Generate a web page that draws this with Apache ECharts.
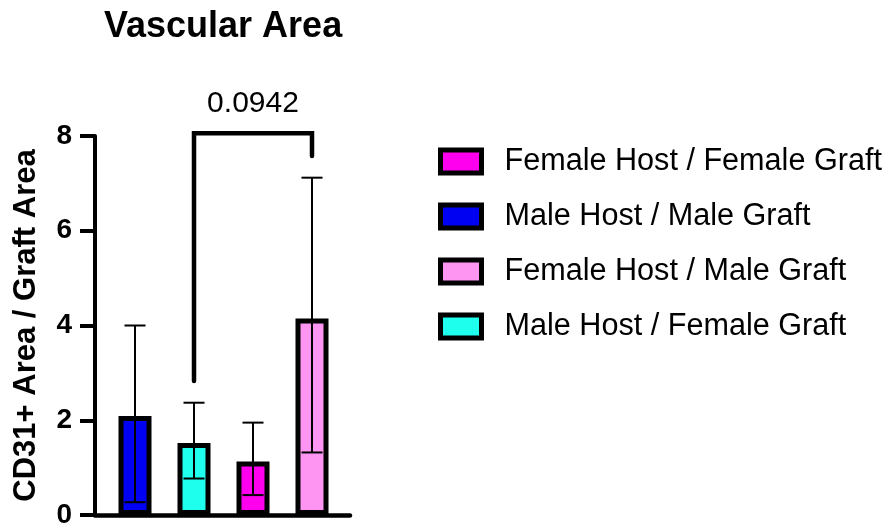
<!DOCTYPE html>
<html>
<head>
<meta charset="utf-8">
<script src="https://cdn.jsdelivr.net/npm/echarts@6/dist/echarts.min.js"></script>
<style>
  html, body { margin: 0; padding: 0; background: #fff; }
  #chart { width: 886px; height: 529px; }
</style>
</head>
<body>
<div id="chart"></div>
<script>
// group names, in bar order
var groups = ["Male Host / Male Graft", "Male Host / Female Graft", "Female Host / Female Graft", "Female Host / Male Graft"];
var legendOrder = ["Female Host / Female Graft", "Male Host / Male Graft", "Female Host / Male Graft", "Male Host / Female Graft"];
var colors = ["#0000F2", "#1EFFEE", "#FF00EE", "#FF95F2"];
var xPos = [1, 2, 3, 4];
var means = [2.09, 1.52, 1.13, 4.15];
var upper = [4.0, 2.37, 1.95, 7.12];
var lower = [0.27, 0.77, 0.42, 1.32];
var yTicks = [0, 2, 4, 6, 8];
// significance bracket: from group, to group, top, left leg end, right leg end
var bracket = [[2, 4, 8.06, 2.83, 7.58]];
var bracketLabels = ["0.0942"];

var font = "'Liberation Sans', Arial, sans-serif";

var chart = echarts.init(document.getElementById("chart"));

var series = groups.map(function (name, i) {
  return {
    name: name,
    type: "bar",
    barWidth: 33,
    barGap: "-100%",
    itemStyle: { color: colors[i], borderColor: "#000", borderWidth: 5 },
    data: [[xPos[i], means[i]]],
    z: 2
  };
});

// error bars
series.push({
  type: "custom",
  z: 5,
  renderItem: function (params, api) {
    var x = api.value(0);
    var lo = api.coord([x, api.value(1)]);
    var hi = api.coord([x, api.value(2)]);
    var half = 10.5;
    var st = { stroke: "#000", lineWidth: 2 };
    return {
      type: "group",
      children: [
        { type: "line", shape: { x1: lo[0], y1: lo[1], x2: hi[0], y2: hi[1] }, style: st },
        { type: "line", shape: { x1: lo[0] - half, y1: lo[1], x2: lo[0] + half, y2: lo[1] }, style: st },
        { type: "line", shape: { x1: hi[0] - half, y1: hi[1], x2: hi[0] + half, y2: hi[1] }, style: st }
      ]
    };
  },
  data: xPos.map(function (x, i) { return [x, lower[i], upper[i]]; })
});

// bracket with p value
series.push({
  type: "custom",
  z: 5,
  renderItem: function (params, api) {
    var a = api.coord([api.value(0), api.value(2)]);
    var b = api.coord([api.value(1), api.value(2)]);
    var aEnd = api.coord([api.value(0), api.value(3)]);
    var bEnd = api.coord([api.value(1), api.value(4)]);
    var mid = api.coord([(api.value(0) + api.value(1)) / 2, api.value(2)]);
    return {
      type: "group",
      children: [
        {
          type: "polyline",
          shape: { points: [[aEnd[0], aEnd[1]], [a[0], a[1]], [b[0], b[1]], [bEnd[0], bEnd[1]]] },
          style: { stroke: "#000", lineWidth: 4.5, fill: null, lineJoin: "miter", lineCap: "round" }
        },
        {
          type: "text",
          x: mid[0],
          y: mid[1] - 29,
          style: {
            text: bracketLabels[params.dataIndex],
            fill: "#000",
            font: "30px " + font,
            align: "center",
            verticalAlign: "middle"
          }
        }
      ]
    };
  },
  data: bracket
});

chart.setOption({
  animation: false,
  title: {
    text: "Vascular Area",
    left: 99,
    top: 4,
    textStyle: { fontFamily: font, fontSize: 36, fontWeight: "bold", color: "#000" }
  },
  legend: {
    data: legendOrder,
    orient: "vertical",
    left: 433,
    top: 141,
    itemWidth: 41,
    itemHeight: 23,
    itemGap: 24,
    icon: "rect",
    itemStyle: { borderColor: "#000", borderWidth: 5 },
    textStyle: { fontFamily: font, fontSize: 30.6, color: "#000", lineHeight: 30, padding: [0, 0, 0, 18] }
  },
  grid: { left: 95, right: 536, top: 136, bottom: 11 },
  xAxis: {
    type: "value",
    min: 0.322,
    max: 4.644,
    axisLine: { show: true, lineStyle: { color: "#000", width: 4.5 } },
    axisTick: { show: false },
    axisLabel: { show: false },
    splitLine: { show: false }
  },
  yAxis: {
    type: "value",
    min: 0,
    max: 8,
    interval: 2,
    name: "CD31+ Area / Graft Area",
    nameLocation: "middle",
    nameRotate: 90,
    nameGap: 53,
    nameTextStyle: { fontFamily: font, fontSize: 31, fontWeight: "bold", color: "#000" },
    axisLine: { show: true, lineStyle: { color: "#000", width: 4 } },
    axisTick: { show: true, inside: false, length: 15, lineStyle: { color: "#000", width: 4 } },
    axisLabel: {
      margin: 23,
      fontFamily: font,
      fontSize: 28,
      fontWeight: "bold",
      color: "#000",
      formatter: function (v) { return yTicks.indexOf(v) >= 0 ? String(v) : ""; }
    },
    splitLine: { show: false }
  },
  series: series
});
</script>
</body>
</html>
